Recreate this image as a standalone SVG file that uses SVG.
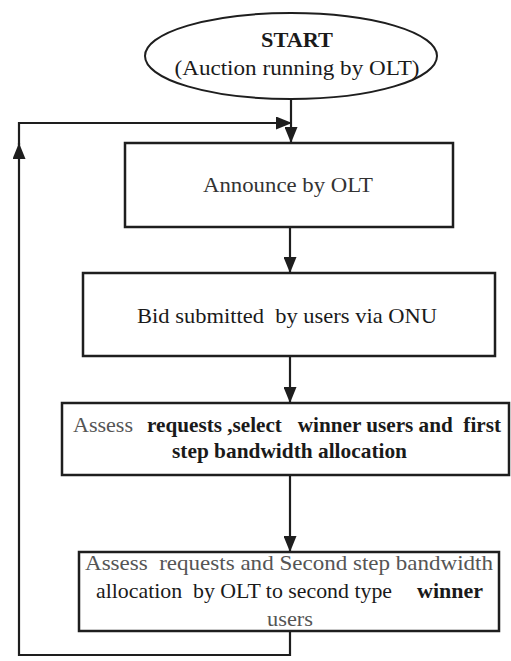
<svg xmlns="http://www.w3.org/2000/svg" width="511" height="661" viewBox="0 0 511 661">
<style>
.box{fill:#fff;stroke:#1e1e1e;stroke-width:2.5}
.ln{fill:none;stroke:#1e1e1e;stroke-width:2.2}
text{font-family:'Liberation Serif','Times New Roman','DejaVu Serif',serif;font-size:22px;fill:#1a1a1a;white-space:pre}
.g{fill:#555}
.b{font-weight:bold}
</style>
<defs>
<marker id="ah" viewBox="0 0 16 13" refX="16" refY="6.5" markerWidth="16" markerHeight="13" markerUnits="userSpaceOnUse" orient="auto">
<path d="M0,0 L16,6.5 L0,13 z" fill="#1e1e1e"/>
</marker>
</defs>
<rect width="511" height="661" fill="#fff"/>
<g id="connectors">
<path class="ln" d="M291,99 V143" marker-end="url(#ah)"/>
<path class="ln" d="M290,227 V273" marker-end="url(#ah)"/>
<path class="ln" d="M290,356 V403" marker-end="url(#ah)"/>
<path class="ln" d="M290,475 V552" marker-end="url(#ah)"/>
<path class="ln" d="M290,631 V655 H19 V143" marker-end="url(#ah)"/>
<path class="ln" d="M19,145 V123 H292" marker-end="url(#ah)"/>
</g>
<g id="start">
<ellipse cx="291" cy="56" rx="146" ry="43" fill="#fff" stroke="#1e1e1e" stroke-width="2"/>
<text class="b" x="297" y="47" text-anchor="middle" textLength="72" lengthAdjust="spacingAndGlyphs">START</text>
<text x="297" y="75" text-anchor="middle" textLength="245" lengthAdjust="spacingAndGlyphs">(Auction running by OLT)</text>
</g>
<g id="announce">
<rect class="box" x="125" y="143" width="328" height="84"/>
<text x="203" y="192" style="fill:#333" textLength="170" lengthAdjust="spacingAndGlyphs">Announce by OLT</text>
</g>
<g id="bid">
<rect class="box" x="83" y="273" width="412" height="83"/>
<text x="137" y="323" textLength="300" lengthAdjust="spacingAndGlyphs">Bid submitted  by users via ONU</text>
</g>
<g id="assess1">
<rect class="box" x="62" y="403" width="447" height="72"/>
<text class="g" x="73" y="432" textLength="60" lengthAdjust="spacingAndGlyphs">Assess</text>
<text class="b" x="147" y="432" style="font-size:21px" textLength="354" lengthAdjust="spacingAndGlyphs">requests ,select   winner users and  first</text>
<text class="b" x="172" y="458" textLength="235" lengthAdjust="spacingAndGlyphs">step bandwidth allocation</text>
</g>
<g id="assess2">
<rect class="box" x="79" y="552" width="420" height="79"/>
<text class="g" x="85" y="570" textLength="408" lengthAdjust="spacingAndGlyphs">Assess  requests and Second step bandwidth</text>
<text x="96" y="598" textLength="296" lengthAdjust="spacingAndGlyphs">allocation  by OLT to second type</text>
<text class="b" x="417" y="598" textLength="66" lengthAdjust="spacingAndGlyphs">winner</text>
<text class="g" x="267" y="626" textLength="46" lengthAdjust="spacingAndGlyphs">users</text>
</g>
</svg>
